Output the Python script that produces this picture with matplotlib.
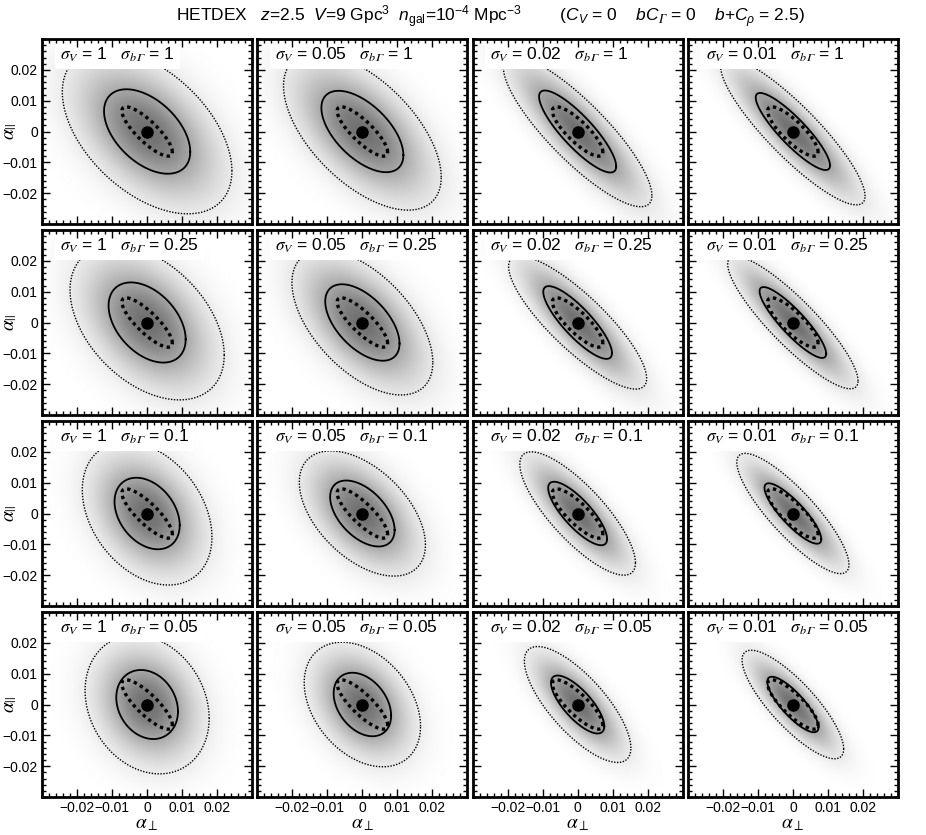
import numpy as np
import matplotlib
matplotlib.use("Agg")
import matplotlib.pyplot as plt
from matplotlib.ticker import MultipleLocator, FixedLocator, FixedFormatter

plt.rcParams['font.family'] = ['Liberation Sans', 'DejaVu Sans']
plt.rcParams['mathtext.fontset'] = 'stix'
plt.rcParams['mathtext.rm'] = 'Liberation Sans'
plt.rcParams['mathtext.it'] = 'Liberation Sans:italic'
plt.rcParams['mathtext.bf'] = 'Liberation Sans:bold'
plt.rcParams['mathtext.sf'] = 'Liberation Sans'
plt.rcParams['mathtext.fallback'] = 'stixsans'

# column / row parameters
sigma_v_labels = ['1', '0.05', '0.02', '0.01']
sigma_bgamma_labels = ['1', '0.25', '0.1', '0.05']

# solid (1 sigma) ellipse: marginal widths and correlation, rows = sigma_bGamma
solid_sx = [[0.0123, 0.0117, 0.0110, 0.0106],
            [0.0110, 0.0106, 0.0098, 0.0095],
            [0.0093, 0.0092, 0.0084, 0.0081],
            [0.0088, 0.0082, 0.0076, 0.0073]]
solid_sy = [[0.0137, 0.0132, 0.0133, 0.0125],
            [0.0130, 0.0124, 0.0118, 0.0115],
            [0.0116, 0.0107, 0.0103, 0.0098],
            [0.0112, 0.0103, 0.0094, 0.0090]]
solid_rho = [[-0.48, -0.58, -0.85, -0.88],
             [-0.42, -0.55, -0.84, -0.88],
             [-0.33, -0.50, -0.80, -0.85],
             [-0.20, -0.35, -0.75, -0.82]]

# outer dotted ellipse widths (same orientation as the solid one)
outer_sx = [[0.0242, 0.0225, 0.0212, 0.0206],
            [0.0220, 0.0201, 0.0197, 0.0186],
            [0.0185, 0.0180, 0.0165, 0.0160],
            [0.0177, 0.0166, 0.0152, 0.0145]]
outer_sy = [[0.0267, 0.0255, 0.0244, 0.0238],
            [0.0251, 0.0235, 0.0216, 0.0215],
            [0.0232, 0.0203, 0.0200, 0.0195],
            [0.0225, 0.0202, 0.0188, 0.0176]]

# inner thick dotted ellipse, same in every panel
inner_sx = 0.0072
inner_sy = 0.0080
inner_rho = -0.83

tick_values = [-0.02, -0.01, 0.0, 0.01, 0.02]
tick_labels = ['\u22120.02', '\u22120.01', '0', '0.01', '0.02']

LIM = 0.03
GAMMA_IT = '\U0001D6E4'  # italic capital gamma


def ellipse_xy(sx, sy, rho, n=400):
    cov = np.array([[sx * sx, rho * sx * sy], [rho * sx * sy, sy * sy]])
    L = np.linalg.cholesky(cov)
    t = np.linspace(0, 2 * np.pi, n)
    pts = L @ np.vstack([np.cos(t), np.sin(t)])
    return pts[0], pts[1]


def shade_image(sx, sy, rho, n=300):
    g = np.linspace(-LIM, LIM, n)
    X, Y = np.meshgrid(g, g)
    u, v = X / sx, Y / sy
    chi2 = (u * u - 2 * rho * u * v + v * v) / (1 - rho * rho)
    return 1.0 - 0.56 * np.exp(-0.5 * chi2)


fig, axes = plt.subplots(4, 4, figsize=(9.26, 8.35), dpi=100)
fig.subplots_adjust(left=42 / 926, right=898 / 926, top=1 - 39 / 835,
                    bottom=1 - 797 / 835, wspace=5 / 210, hspace=6 / 185)

for i in range(4):
    for j in range(4):
        ax = axes[i, j]
        sx, sy, rho = solid_sx[i][j], solid_sy[i][j], solid_rho[i][j]

        ax.imshow(shade_image(sx, sy, rho), extent=[-LIM, LIM, -LIM, LIM],
                  origin='lower', cmap='gray', vmin=0, vmax=1,
                  aspect='auto', interpolation='bilinear', zorder=0)

        x, y = ellipse_xy(outer_sx[i][j], outer_sy[i][j], rho)
        ax.plot(x, y, color='black', lw=1.0, linestyle=(0, (1, 1.1)), zorder=2)
        x, y = ellipse_xy(sx, sy, rho)
        ax.plot(x, y, color='black', lw=1.3, zorder=2)
        x, y = ellipse_xy(inner_sx, inner_sy, inner_rho)
        ax.plot(x, y, color='black', lw=2.4, linestyle=(0, (1, 1.1)),
                dash_capstyle='butt', zorder=2)
        ax.plot([0], [0], 'o', color='black', ms=8, zorder=2.2)

        label = (r'$\sigma_V$' + ' = ' + sigma_v_labels[j] + '   '
                 + r'$\sigma_{b' + GAMMA_IT + '}$' + ' = ' + sigma_bgamma_labels[i])
        ax.text(0.085, 0.915, label, transform=ax.transAxes, fontsize=12.5,
                ha='left', va='center', zorder=2.3, clip_on=True,
                bbox=dict(boxstyle='square,pad=0.3', fc='white', ec='none'))

        ax.set_xlim(-LIM, LIM)
        ax.set_ylim(-LIM, LIM)
        ax.set_axisbelow(False)
        for sp in ax.spines.values():
            sp.set_linewidth(2.0)
        ax.xaxis.set_major_locator(FixedLocator(tick_values))
        ax.yaxis.set_major_locator(FixedLocator(tick_values))
        ax.xaxis.set_minor_locator(MultipleLocator(0.002))
        ax.yaxis.set_minor_locator(MultipleLocator(0.002))
        ax.tick_params(which='both', direction='in', top=True, right=True,
                       width=1.0, labelsize=10, pad=3)
        ax.tick_params(which='major', length=6)
        ax.tick_params(which='minor', length=3)

        if j == 0:
            ax.yaxis.set_major_formatter(FixedFormatter(tick_labels))
            ax.set_ylabel(r'$\alpha_{||}$', fontsize=14)
            ax.yaxis.set_label_coords(-0.11, 0.5)
        else:
            ax.set_yticklabels([])
        if i == 3:
            ax.xaxis.set_major_formatter(FixedFormatter(tick_labels))
            ax.set_xlabel(r'$\alpha_\perp$', fontsize=14)
            ax.xaxis.set_label_coords(0.5, -0.105)
        else:
            ax.set_xticklabels([])

title = ('HETDEX   $z$=2.5  $V$=9 Gpc$^3$  $n_{\\mathrm{gal}}$=10$^{-4}$ Mpc$^{-3}$'
         '        ($C_V$ = 0    $bC_{' + GAMMA_IT + '}$ = 0    $b$+$C_\\rho$ = 2.5)')
fig.text(490 / 926, 1 - 17 / 835, title, ha='center', va='center',
         fontsize=12.5, math_fontfamily='custom')

fig.savefig('out.png', dpi=100)
